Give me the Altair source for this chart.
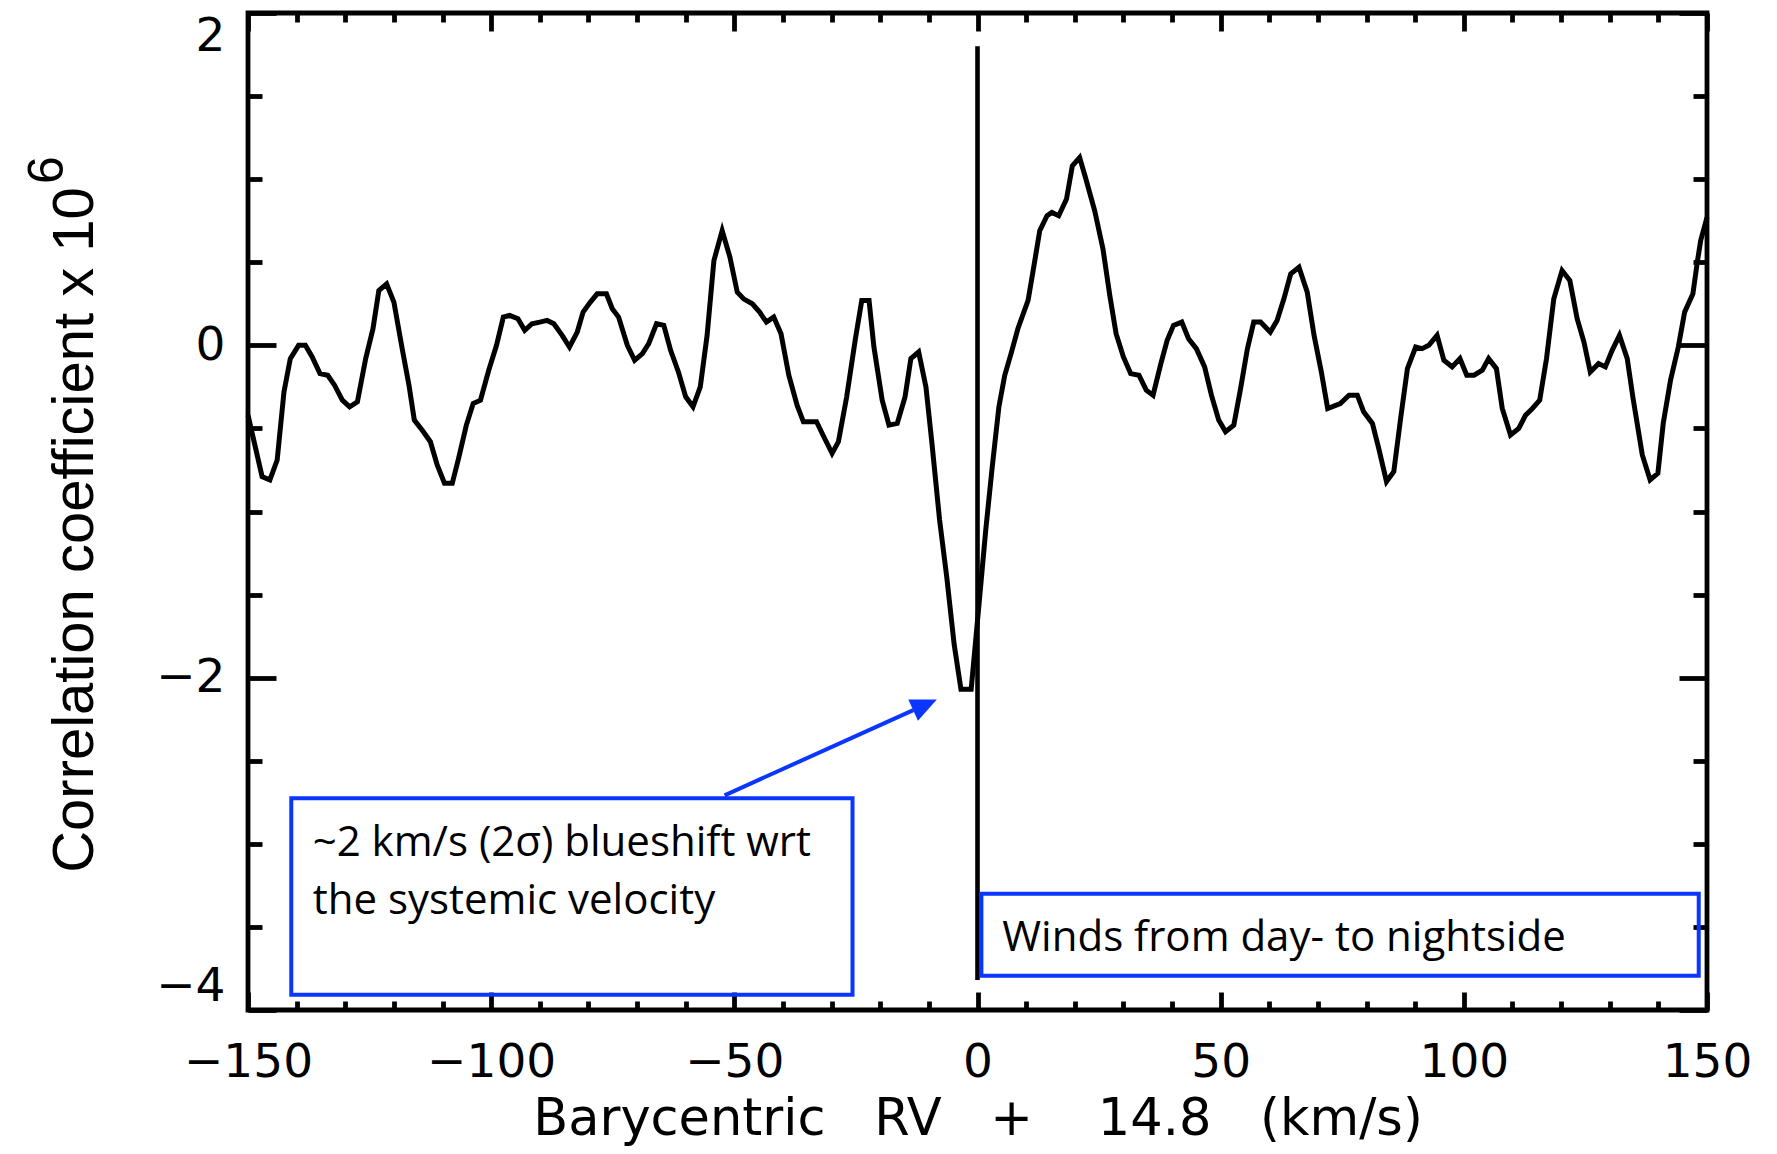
import altair as alt
import pandas as pd

# ---------------- data ----------------
rv = [-150.0, -147.1, -145.5, -144.0, -142.6, -141.3, -139.6, -138.2, -136.8, -135.2,
      -133.6, -132.2, -130.6, -129.1, -127.5, -125.8, -124.3, -123.1, -121.5, -120.0,
      -118.3, -116.9, -115.8, -114.2, -112.5, -111.1, -109.6, -108.0, -106.7, -105.1,
      -103.7, -102.2, -100.5, -98.9, -97.5, -96.2, -94.5, -93.1, -91.6, -90.0,
      -88.5, -87.1, -85.4, -83.9, -82.3, -81.1, -79.6, -78.2, -76.3, -75.1,
      -73.8, -72.0, -70.5, -68.9, -67.6, -66.0, -64.5, -63.1, -61.5, -60.0,
      -58.5, -57.0, -55.6, -54.2, -52.5, -50.9, -49.4, -48.1, -46.3, -44.8,
      -43.4, -41.9, -40.4, -38.8, -37.1, -35.8, -33.1, -31.6, -29.9, -28.6,
      -26.9, -25.1, -23.8, -22.3, -21.3, -19.6, -18.2, -16.5, -14.9, -13.7,
      -12.1, -10.6, -9.4, -7.8, -6.3, -4.8, -3.4, -1.3, 0.4, 1.7,
      3.0, 4.4, 5.6, 6.9, 8.3, 10.4, 11.5, 12.8, 14.3, 15.3,
      16.7, 18.3, 19.5, 21.0, 22.2, 24.1, 25.8, 27.2, 28.5, 30.0,
      31.5, 33.2, 34.7, 36.1, 37.7, 39.0, 40.3, 42.0, 43.4, 45.0,
      46.7, 48.1, 49.6, 51.0, 52.7, 54.1, 55.5, 56.8, 58.2, 60.2,
      61.6, 63.0, 64.4, 66.1, 67.8, 69.2, 70.7, 72.0, 74.6, 76.4,
      78.1, 79.4, 81.2, 82.5, 84.1, 85.6, 87.0, 88.4, 90.1, 91.4,
      92.8, 94.5, 95.9, 97.6, 99.2, 100.6, 102.1, 103.8, 105.1, 106.7,
      107.9, 109.6, 111.3, 112.7, 114.1, 115.6, 117.0, 118.5, 120.2, 121.8,
      123.3, 124.7, 126.0, 127.7, 129.1, 130.5, 132.0, 133.6, 134.8, 136.7,
      138.3, 139.9, 141.0, 142.5, 144.1, 145.4, 147.1, 148.0, 148.7, 150.0]
corr = [-0.42, -0.79, -0.81, -0.69, -0.28, -0.08, 0.00, 0.00, -0.07, -0.17,
        -0.18, -0.24, -0.33, -0.37, -0.34, -0.08, 0.10, 0.33, 0.37, 0.26,
        -0.02, -0.24, -0.45, -0.51, -0.58, -0.72, -0.83, -0.83, -0.68, -0.48,
        -0.35, -0.33, -0.15, 0.00, 0.17, 0.18, 0.16, 0.09, 0.13, 0.14,
        0.15, 0.13, 0.06, -0.01, 0.08, 0.20, 0.26, 0.31, 0.31, 0.22,
        0.17, 0.00, -0.09, -0.05, 0.01, 0.13, 0.12, -0.03, -0.16, -0.31,
        -0.37, -0.25, 0.06, 0.51, 0.69, 0.53, 0.32, 0.28, 0.25, 0.20,
        0.14, 0.17, 0.07, -0.18, -0.36, -0.46, -0.46, -0.55, -0.65, -0.58,
        -0.31, 0.04, 0.27, 0.27, -0.01, -0.33, -0.48, -0.47, -0.31, -0.08,
        -0.04, -0.25, -0.58, -1.05, -1.40, -1.80, -2.07, -2.07, -1.53, -1.11,
        -0.74, -0.37, -0.18, -0.05, 0.10, 0.27, 0.46, 0.69, 0.78, 0.80,
        0.78, 0.88, 1.08, 1.13, 1.01, 0.81, 0.58, 0.30, 0.07, -0.07,
        -0.17, -0.18, -0.27, -0.30, -0.11, 0.03, 0.12, 0.14, 0.04, -0.02,
        -0.13, -0.30, -0.45, -0.52, -0.48, -0.26, -0.02, 0.14, 0.14, 0.08,
        0.15, 0.28, 0.43, 0.47, 0.32, 0.06, -0.16, -0.38, -0.35, -0.30,
        -0.30, -0.40, -0.47, -0.62, -0.82, -0.76, -0.44, -0.14, -0.01, -0.02,
        0.00, 0.06, -0.09, -0.13, -0.08, -0.18, -0.18, -0.15, -0.08, -0.14,
        -0.38, -0.54, -0.50, -0.42, -0.38, -0.33, -0.08, 0.28, 0.45, 0.39,
        0.16, 0.02, -0.16, -0.11, -0.13, -0.03, 0.06, -0.08, -0.32, -0.66,
        -0.81, -0.77, -0.47, -0.21, -0.01, 0.20, 0.31, 0.50, 0.63, 0.77]

x_major = [-150, -100, -50, 0, 50, 100, 150]
x_minor = [-140, -130, -120, -110, -90, -80, -70, -60, -40, -30, -20, -10,
           10, 20, 30, 40, 60, 70, 80, 90, 110, 120, 130, 140]
y_major = [-4, -2, 0, 2]
y_minor = [-3.5, -3, -2.5, -1.5, -1, -0.5, 0.5, 1, 1.5]

# systemic-velocity marker
vline_x = [0.0]
vline_top = [1.80]
vline_bottom = [-3.82]

# annotation boxes (data coordinates)
box_x = [-141.1, 0.8]
box_x2 = [-25.7, 148.3]
box_y = [-2.726, -3.30]
box_y2 = [-3.908, -3.794]

# annotation texts
note_text = ["~2 km/s (2σ) blueshift wrt", "the systemic velocity", "Winds from day- to nightside"]
note_x = [-136.7, -136.7, 5.1]
note_y = [-3.074, -3.421, -3.642]

# arrow
arrow_start = [-52.0, -2.708]
arrow_base = [-13.2, -2.195]
arrow_head = [-10.8, -2.163]

NB = "\u00a0"
x_title = "Barycentric" + NB * 3 + "RV" + NB * 3 + "+" + NB * 4 + "14.8" + NB * 3 + "(km/s)"
y_title = "Correlation coefficient x 10"

BLUE = "#0a36ff"
W, H = 1459, 997
AXW = 4.8

curve = pd.DataFrame({"rv": rv, "corr": corr})
vline = pd.DataFrame({"x": vline_x, "y": vline_top, "y2": vline_bottom})
box1 = pd.DataFrame({"x": box_x[:1], "x2": box_x2[:1], "y": box_y[:1], "y2": box_y2[:1]})
box2 = pd.DataFrame({"x": box_x[1:], "x2": box_x2[1:], "y": box_y[1:], "y2": box_y2[1:]})
notes = pd.DataFrame({"x": note_x, "y": note_y, "t": note_text})
arrow = pd.DataFrame({"x": [arrow_start[0]], "y": [arrow_start[1]],
                      "x2": [arrow_base[0]], "y2": [arrow_base[1]]})
head = pd.DataFrame({"x": [arrow_head[0]], "y": [arrow_head[1]]})
sup = pd.DataFrame({"t": ["6"]})

xs = alt.Scale(domain=[-150, 150], nice=False, zero=False)
ys = alt.Scale(domain=[-4, 2], nice=False, zero=False)


def tick_axis(orient, offset, values, size):
    return alt.Axis(orient=orient, offset=offset, values=values, tickSize=size,
                    tickWidth=AXW, tickColor="black", labels=False, domain=False,
                    grid=False, title=None)


x_label_axis = alt.Axis(
    orient="bottom", values=x_major, ticks=False, tickSize=0, domain=False, grid=False,
    labelFont="DejaVu Sans", labelFontSize=47, labelColor="black",
    labelBaseline="alphabetic", labelPadding=66, labelFlush=False, labelOverlap=False,
    title=x_title, titleFont="DejaVu Sans",
    titleFontSize=51, titleFontWeight="normal", titleColor="black",
    titleX=729.5, titleY=124, titleAlign="center", titleBaseline="alphabetic",
)
y_label_axis = alt.Axis(
    orient="left", values=y_major, ticks=False, tickSize=0, domain=False, grid=False,
    labelFont="DejaVu Sans", labelFontSize=47, labelColor="black",
    labelPadding=23, labelFlush=True, labelOverlap=False,
    title=y_title, titleFont="Liberation Sans",
    titleFontSize=58, titleFontWeight="normal", titleColor="black",
    titleAngle=270, titleX=-155.5, titleY=516.5, titleAlign="center",
    titleBaseline="alphabetic",
)

line_layer = alt.Chart(curve).mark_line(color="black", strokeWidth=5).encode(
    x=alt.X("rv:Q", scale=xs, axis=x_label_axis),
    y=alt.Y("corr:Q", scale=ys, axis=y_label_axis),
)

vline_layer = alt.Chart(vline).mark_rule(color="black", strokeWidth=4.6).encode(
    x=alt.X("x:Q", scale=xs, axis=tick_axis("top", -H, x_major, 18)),
    y=alt.Y("y:Q", scale=ys, axis=tick_axis("right", -W, y_major, 28)),
    y2="y2:Q",
)

box1_layer = alt.Chart(box1).mark_rect(fillOpacity=0, stroke=BLUE, strokeWidth=4).encode(
    x=alt.X("x:Q", scale=xs, axis=tick_axis("bottom", -H, x_major, 18)),
    x2="x2:Q",
    y=alt.Y("y:Q", scale=ys, axis=tick_axis("left", -W, y_major, 28)),
    y2="y2:Q",
)

box2_layer = alt.Chart(box2).mark_rect(fillOpacity=0, stroke=BLUE, strokeWidth=4).encode(
    x=alt.X("x:Q", scale=xs, axis=tick_axis("top", -H, x_minor, 9)),
    x2="x2:Q",
    y=alt.Y("y:Q", scale=ys, axis=tick_axis("right", -W, y_minor, 14)),
    y2="y2:Q",
)

arrow_layer = alt.Chart(arrow).mark_rule(color=BLUE, strokeWidth=4).encode(
    x=alt.X("x:Q", scale=xs, axis=tick_axis("bottom", -H, x_minor, 9)),
    x2="x2:Q",
    y=alt.Y("y:Q", scale=ys, axis=tick_axis("left", -W, y_minor, 14)),
    y2="y2:Q",
)

head_layer = alt.Chart(head).mark_point(
    shape="M1,0L-1,-0.9L-1,0.9Z", filled=True, size=676, angle=335.7,
    color=BLUE, opacity=1, strokeWidth=0,
).encode(
    x=alt.X("x:Q", scale=xs, axis=None),
    y=alt.Y("y:Q", scale=ys, axis=None),
)

notes_layer = alt.Chart(notes).mark_text(
    font="Open Sans", fontSize=42, color="black", align="left", baseline="alphabetic"
).encode(
    x=alt.X("x:Q", scale=xs, axis=None),
    y=alt.Y("y:Q", scale=ys, axis=None),
    text="t:N",
)

sup_layer = alt.Chart(sup).mark_text(
    font="Liberation Sans", fontSize=50, color="black", angle=270,
    align="center", baseline="alphabetic",
).encode(
    x=alt.value(-185.5),
    y=alt.value(157),
    text="t:N",
)

chart = alt.layer(
    line_layer, vline_layer, box1_layer, box2_layer, arrow_layer,
    head_layer, notes_layer, sup_layer,
).resolve_axis(
    x="independent", y="independent"
).properties(
    width=W, height=H,
    autosize=alt.AutoSizeParams(type="none"),
    padding={"left": 240, "top": 5, "right": 62, "bottom": 136},
    background="white",
).configure_view(
    stroke="black", strokeWidth=AXW
)

chart.save("out.html", embed_options={"renderer": "svg", "actions": False})
